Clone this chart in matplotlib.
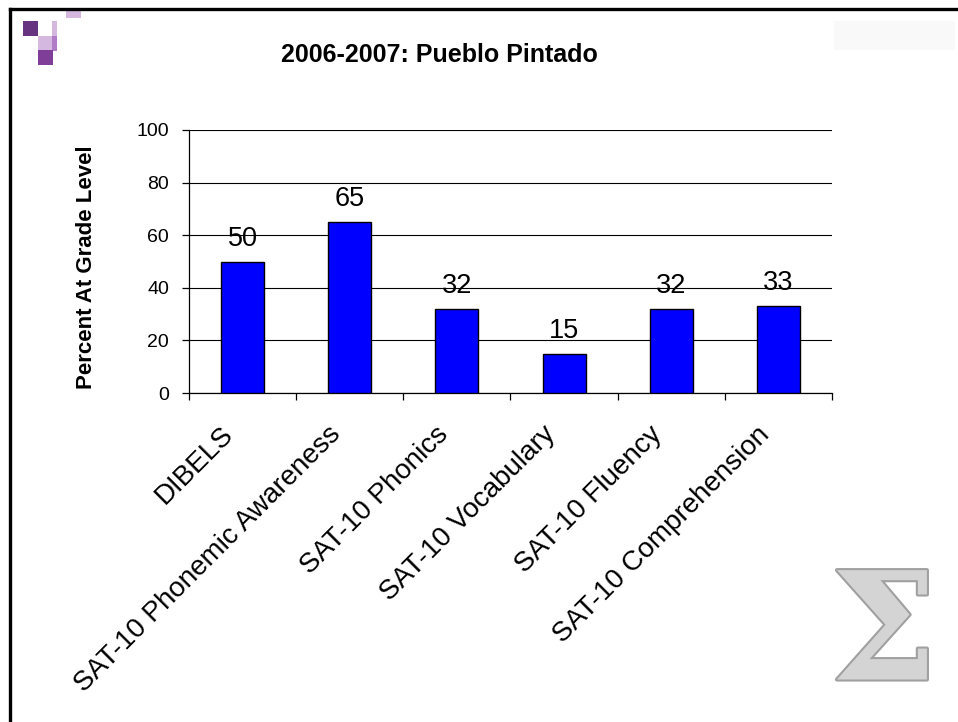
import matplotlib
matplotlib.use("Agg")
import matplotlib.pyplot as plt
from matplotlib.lines import Line2D
from matplotlib.patches import Rectangle
from matplotlib.transforms import ScaledTranslation
import matplotlib.patheffects as pe
import numpy as np

plt.rcParams['font.family'] = ['Liberation Sans', 'DejaVu Sans']

title = "2006-2007: Pueblo Pintado"
categories = ["DIBELS", "SAT-10 Phonemic Awareness", "SAT-10 Phonics",
              "SAT-10 Vocabulary", "SAT-10 Fluency", "SAT-10 Comprehension"]
values = [50, 65, 32, 15, 32, 33]
yticks = [0, 20, 40, 60, 80, 100]
ylabel = "Percent At Grade Level"

W, H = 958, 722
fig = plt.figure(figsize=(W / 100, H / 100), dpi=100)
fig.patch.set_facecolor("white")

def fx(px):
    return px / W

def fy(py):
    return 1 - py / H

# slide frame (left and top borders)
fig.add_artist(Line2D([fx(10), fx(10)], [fy(8.5), 0], color="black", lw=2.4,
                      transform=fig.transFigure))
fig.add_artist(Line2D([fx(10), 1], [fy(8.5), fy(8.5)], color="black", lw=2.4,
                      transform=fig.transFigure))

# decorative squares top-left
squares = [
    (23, 21, 15, 15, "#663380"),
    (66, 9, 15, 9, "#d4b8e0"),
    (52, 21, 5, 15, "#d4b8e0"),
    (38, 36, 14, 14, "#d4b8e0"),
    (52, 36, 5, 15, "#b07cc8"),
    (38, 50, 15, 15, "#7f3f98"),
]
for x0, y0, w, h, c in squares:
    fig.add_artist(Rectangle((fx(x0), fy(y0 + h)), w / W, h / H, color=c, lw=0,
                             transform=fig.transFigure))

# faint box top-right
fig.add_artist(Rectangle((fx(834), fy(50)), 121 / W, 29 / H, color="#f9f9fa", lw=0,
                         transform=fig.transFigure))

# axes
ax = fig.add_axes([fx(189), fy(393), (832 - 189) / W, (393 - 130) / H])
x = np.arange(len(categories))
ax.bar(x, values, width=0.4, color="#0000ff", edgecolor="black", linewidth=1.0, zorder=3)
ax.set_xlim(-0.5, len(categories) - 0.5)
ax.set_ylim(0, 100)
ax.set_yticks(yticks)
ax.set_yticklabels([str(t) for t in yticks], fontsize=14)
ax.yaxis.grid(True, color="black", linewidth=0.8, zorder=0)
ax.set_axisbelow(True)
for s in ["top", "right"]:
    ax.spines[s].set_visible(False)
ax.spines["left"].set_linewidth(0.9)
ax.spines["bottom"].set_linewidth(0.9)
ax.tick_params(axis="y", length=5.3, width=0.9, pad=9)

ax.set_xticks(x)
ax.set_xticklabels(categories, rotation=45, ha="right", va="top",
                   rotation_mode="anchor", fontsize=20)
ax.tick_params(axis="x", length=0, pad=24)
offset = ScaledTranslation(-22 / 100, 5 / 100, fig.dpi_scale_trans)
for lab in ax.get_xticklabels():
    lab.set_transform(lab.get_transform() + offset)
ax.set_xticks(np.arange(len(categories) + 1) - 0.5, minor=True)
ax.tick_params(axis="x", which="minor", length=5, width=0.9)

for xi, v in zip(x, values):
    ax.annotate(str(v), (xi, v), xytext=(0, 11.5), textcoords="offset points",
                ha="center", va="baseline", fontsize=19.5)

fig.text(fx(86), fy(267), ylabel, rotation=90, ha="center", va="center",
         fontsize=16, fontweight="bold")

fig.text(fx(439), fy(55), title, ha="center", va="center", fontsize=18, fontweight="bold")

# sigma logo
fig.text(fx(884), fy(638), "\u03A3", ha="center", va="center", fontsize=108,
         family="DejaVu Serif", fontweight="bold", color="#d4d4d4",
         path_effects=[pe.withStroke(linewidth=3, foreground="#a0a0a0")])

fig.savefig("out.png", dpi=100, facecolor="white")
